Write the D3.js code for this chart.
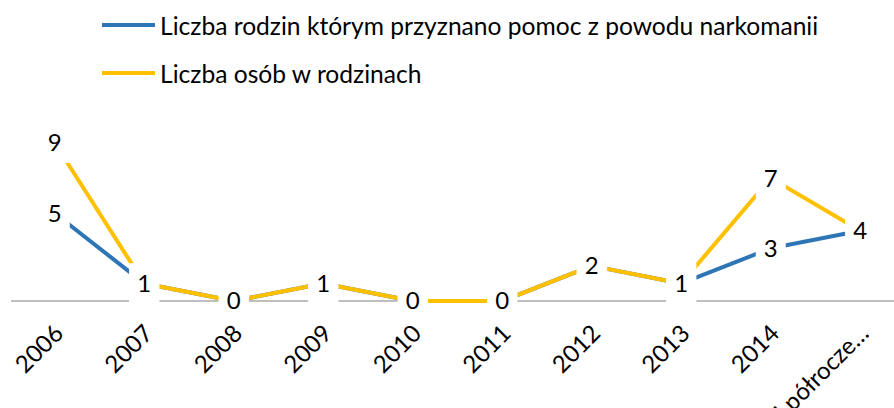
<!DOCTYPE html>
<html>
<head>
<meta charset="utf-8">
<script src="https://cdn.jsdelivr.net/npm/d3@7"></script>
<style>
  html, body { margin: 0; padding: 0; background: #fff; }
  svg { display: block; font-family: Lato, "Open Sans", sans-serif; }
</style>
</head>
<body>
<svg id="chart" width="894" height="408"></svg>
<script>
// Categories (years) and the two series
const categories = ["2006", "2007", "2008", "2009", "2010", "2011", "2012", "2013", "2014", "I półrocze 2015"];
const tickLabels = ["2006", "2007", "2008", "2009", "2010", "2011", "2012", "2013", "2014", "I półrocze…"];
const families = [5, 1, 0, 1, 0, 0, 2, 1, 3, 4];
const persons  = [9, 1, 0, 1, 0, 0, 2, 1, 7, 4];
const seriesNames = [
  "Liczba rodzin którym przyznano pomoc z powodu narkomanii",
  "Liczba osób w rodzinach"
];
const seriesColors = ["#2E75B6", "#FFC000"];

const series = [
  { name: seriesNames[0], values: families, color: seriesColors[0] },
  { name: seriesNames[1], values: persons,  color: seriesColors[1] }
];

const svg = d3.select("#chart");
const fontSize = 24;

// Scales
const x = d3.scaleBand().domain(categories).range([10, 905]);
const cx = d => x(d) + x.bandwidth() / 2;
const y = d3.scaleLinear().domain([0, 9]).range([301, 143]);

// Horizontal category axis
svg.append("line")
  .attr("x1", 11).attr("x2", 905)
  .attr("y1", y(0)).attr("y2", y(0))
  .attr("stroke", "#BFBFBF").attr("stroke-width", 2);

// Lines
const line = d3.line()
  .x((d, i) => cx(categories[i]))
  .y(d => y(d));

series.forEach(s => {
  svg.append("path")
    .datum(s.values)
    .attr("fill", "none")
    .attr("stroke", s.color)
    .attr("stroke-width", 4)
    .attr("stroke-linejoin", "round")
    .attr("d", line);
});

// Data labels with white boxes centred on each point
series.forEach(s => {
  const g = svg.append("g");
  const lab = g.selectAll("g").data(s.values).join("g")
    .attr("transform", (d, i) => `translate(${cx(categories[i])},${y(d)})`);
  lab.append("rect")
    .attr("x", -15).attr("y", -20)
    .attr("width", 30).attr("height", 40)
    .attr("fill", "#fff");
  lab.append("text")
    .attr("text-anchor", "middle")
    .attr("dy", "0.35em")
    .attr("font-size", fontSize)
    .attr("fill", "#000")
    .text(d => d);
});

// Rotated tick labels
const xAxis = d3.axisBottom(x).tickSize(0).tickFormat((d, i) => tickLabels[i]);
const axisG = svg.append("g").attr("transform", `translate(0,${y(0)})`).call(xAxis);
axisG.select(".domain").remove();
axisG.selectAll("text")
  .attr("font-family", "Lato, 'Open Sans', sans-serif")
  .attr("font-size", fontSize)
  .attr("fill", "#000")
  .attr("text-anchor", "end")
  .attr("dy", null)
  .attr("y", 0)
  .attr("transform", "translate(10,34) rotate(-45)");

// Legend
const legend = svg.append("g");
series.forEach((s, i) => {
  const ly = 25 + i * 48;
  legend.append("line")
    .attr("x1", 102).attr("x2", 155)
    .attr("y1", ly).attr("y2", ly)
    .attr("stroke", s.color).attr("stroke-width", 4);
  legend.append("text")
    .attr("x", 160).attr("y", ly + 9.5)
    .attr("font-size", 24.6)
    .attr("fill", "#000")
    .text(s.name);
});
</script>
</body>
</html>
